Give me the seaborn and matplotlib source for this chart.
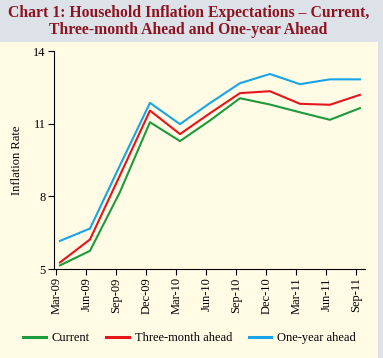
import pandas as pd
import matplotlib
matplotlib.use('Agg')
import matplotlib.pyplot as plt
import seaborn as sns

# values
quarters = ['Mar-09', 'Jun-09', 'Sep-09', 'Dec-09', 'Mar-10', 'Jun-10',
            'Sep-10', 'Dec-10', 'Mar-11', 'Jun-11', 'Sep-11']
current = [5.15, 5.75, 8.18, 11.06, 10.28, 11.13, 12.05, 11.79, 11.47, 11.16, 11.64]
three_month = [5.27, 6.22, 8.87, 11.54, 10.57, 11.43, 12.26, 12.34, 11.82, 11.78, 12.19]
one_year = [6.16, 6.67, 9.28, 11.86, 10.98, 11.85, 12.67, 13.05, 12.63, 12.83, 12.83]
yticks = [5, 8, 11, 14]

series_names = ['Current', 'Three-month ahead', 'One-year ahead']
colors = ['#1c9a3c', '#e8141c', '#18a4e8']

df = pd.DataFrame({'Quarter': quarters * 3,
                   'x': list(range(len(quarters))) * 3,
                   'Rate': current + three_month + one_year,
                   'Series': [s for s in series_names for _ in quarters]})

CREAM = '#fffbe4'
BAND = '#dde1e8'
TITLE_RED = '#8c1420'

plt.rcParams['font.family'] = ['Liberation Serif', 'DejaVu Serif']

fig = plt.figure(figsize=(3.83, 3.58), dpi=100, facecolor=CREAM)
# grey title band and right border
fig.patches.append(plt.Rectangle((0, 1 - 42 / 358), 1, 42 / 358, transform=fig.transFigure,
                                 facecolor=BAND, edgecolor='none', zorder=0))
fig.patches.append(plt.Rectangle((378 / 383, 0), 5 / 383, 1, transform=fig.transFigure,
                                 facecolor=BAND, edgecolor='none', zorder=0))

fig.text(0.492, 1 - 13 / 358, 'Chart 1: Household Inflation Expectations \u2013 Current,',
         ha='center', va='center', color=TITLE_RED, fontsize=11.3, fontweight='bold')
fig.text(0.492, 1 - 30 / 358, 'Three-month Ahead and One-year Ahead',
         ha='center', va='center', color=TITLE_RED, fontsize=11.3, fontweight='bold')

ax = fig.add_axes([54 / 383, 1 - 269 / 358, (365 - 54) / 383, (269 - 51) / 358])
ax.set_facecolor(CREAM)

sns.lineplot(data=df, x='x', y='Rate', hue='Series', palette=colors,
             linewidth=1.5, ax=ax, legend=False)

ax.set_xlim(-0.2, 10.17)
ax.set_ylim(5, 14)
ax.set_yticks(yticks)
ax.set_yticklabels([str(v) for v in yticks], fontsize=9)
# category ticks sit slightly left of the points, as in the original
ax.set_xticks([i - 0.12 for i in range(len(quarters))])
ax.set_xticklabels(quarters, rotation=90, fontsize=9)
ax.tick_params(axis='both', direction='out', length=4, width=0.8, color='black', pad=2)
ax.set_xlabel('')
ax.set_ylabel('Inflation Rate', fontsize=9, labelpad=7)
for s in ['top', 'right']:
    ax.spines[s].set_visible(False)
for s in ['left', 'bottom']:
    ax.spines[s].set_linewidth(0.8)

handles = [plt.Line2D([], [], color=c, lw=2.2) for c in colors]
fig.legend(handles, series_names, loc='center', bbox_to_anchor=(0.495, 1 - 338 / 358),
           ncol=3, frameon=False, fontsize=9, handlelength=1.8, columnspacing=1.3,
           handletextpad=0.5)

fig.savefig('out.png', dpi=100, facecolor=CREAM)
